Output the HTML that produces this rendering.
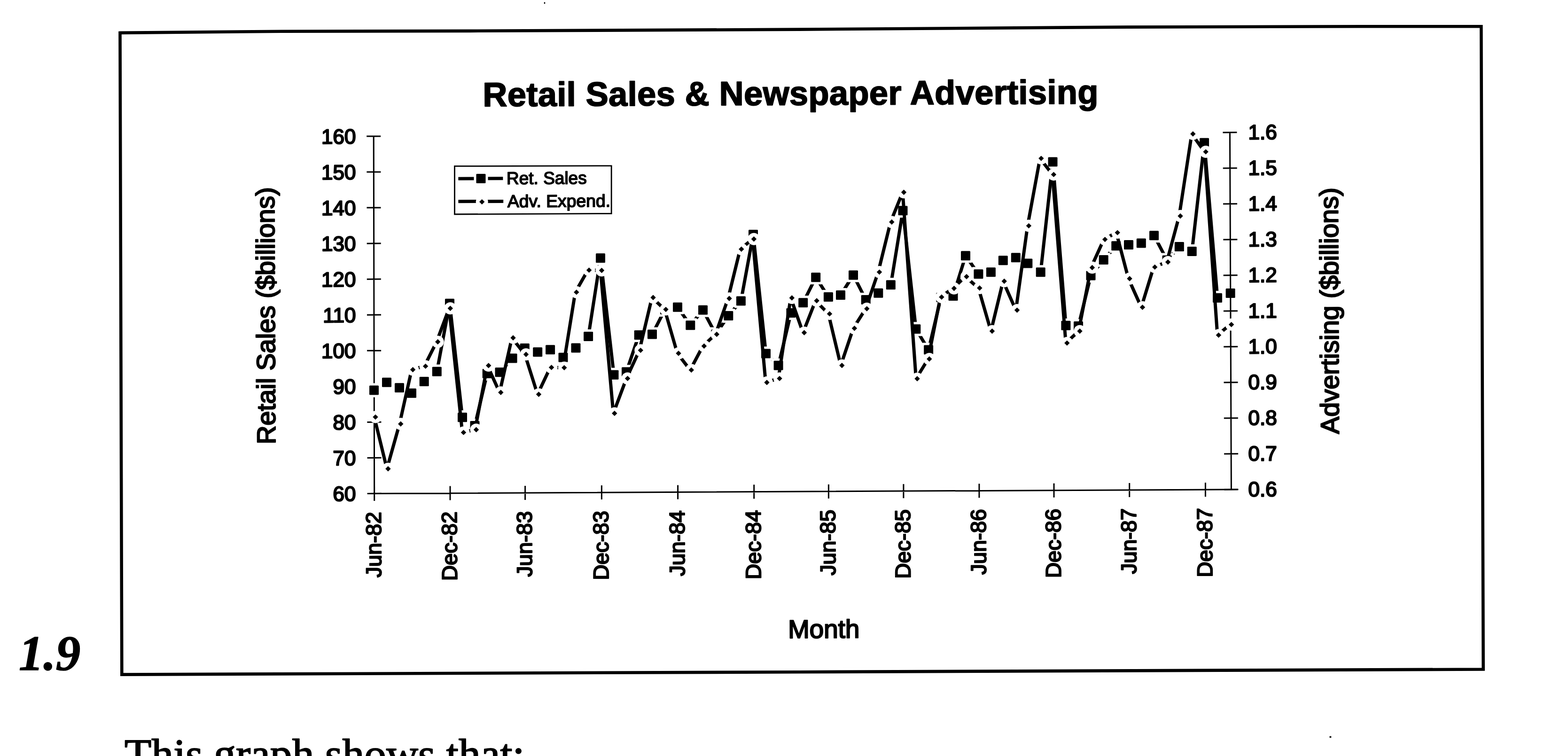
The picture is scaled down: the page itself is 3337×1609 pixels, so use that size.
<!DOCTYPE html>
<html lang="en"><head><meta charset="utf-8"><title>Retail Sales &amp; Newspaper Advertising</title>
<style>
html,body{margin:0;padding:0;background:#fff}
body{width:3337px;height:1609px;overflow:hidden}
svg{display:block}
.sans{font-family:"Liberation Sans",Arial,Helvetica,sans-serif;fill:#000;stroke:#000;stroke-linejoin:round}
.serif{font-family:"Liberation Serif","Times New Roman",serif;fill:#000;stroke:#000;stroke-linejoin:round}
.ax{stroke:#000;stroke-width:3.0;fill:none;stroke-linecap:butt}
.ln{stroke:#000;stroke-width:7.0;fill:none;stroke-linejoin:round;stroke-linecap:round}
.halo{fill:#fff;stroke:none}
.mk{fill:#000;stroke:none}
</style></head><body>
<svg width="3337" height="1609" viewBox="0 0 3337 1609">
<rect x="0" y="0" width="3337" height="1609" fill="#fff"/>
<path d="M255.5 69.9 L600 66.7 L1000 65.9 L1700 62.6 L2400 57.6 L2900 56.2 L3152.3 56.3 L3156.7 1424.5 L1700 1430.2 L259.3 1435.6 Z" fill="none" stroke="#000" stroke-width="6.6" stroke-linejoin="miter"/>
<text class="sans" transform="translate(1027.5 226.3) rotate(-0.25)" font-size="72" text-anchor="start" font-weight="bold" stroke-width="2.0" textLength="1310" lengthAdjust="spacing">Retail Sales &amp; Newspaper Advertising</text>
<text class="sans" transform="translate(586 945.5) rotate(-90.25)" font-size="55.3" text-anchor="start" stroke-width="2.4">Retail Sales ($billions)</text>
<text class="sans" transform="translate(2849.5 923.5) rotate(-90.25)" font-size="55.2" text-anchor="start" stroke-width="2.4">Advertising ($billions)</text>
<text class="sans" transform="translate(1677.3 1358) rotate(-0.25)" font-size="54.7" text-anchor="start" stroke-width="2.4">Month</text>
<path class="ax" d="M795.2 288.5 L796.7 1066 M782 1050.5 L2634 1041.8 M781.7 1050.5 L811.7 1050.3 M781.6 974.4 L811.6 974.3 M781.4 898.4 L811.4 898.3 M781.2 822.3 L811.2 822.2 M781.1 746.3 L811.1 746.2 M781 670.3 L811 670.1 M780.8 594.2 L810.8 594.1 M780.7 518.2 L810.7 518.1 M780.5 442.1 L810.5 442 M780.4 366.1 L810.4 366 M780.2 290.1 L810.2 289.9 M796.7 1035.4 L796.7 1065.4 M958 1034.6 L958 1064.6 M1117.6 1033.9 L1117.6 1063.9 M1280.4 1033.1 L1280.4 1063.1 M1442.6 1032.4 L1442.6 1062.4 M1604.7 1031.6 L1604.7 1061.6 M1763.4 1030.9 L1763.4 1060.9 M1922.9 1030.2 L1922.9 1060.2 M2083.9 1029.4 L2083.9 1059.4 M2243 1028.7 L2243 1058.7 M2403.7 1027.9 L2403.7 1057.9 M2565.4 1027.2 L2565.4 1057.2"/>
<text class="sans" transform="translate(757.5 1066.1) rotate(-0.25)" font-size="44" text-anchor="end" stroke-width="2.4">60</text>
<text class="sans" transform="translate(757.5 990.1) rotate(-0.25)" font-size="44" text-anchor="end" stroke-width="2.4">70</text>
<text class="sans" transform="translate(757.5 914) rotate(-0.25)" font-size="44" text-anchor="end" stroke-width="2.4">80</text>
<text class="sans" transform="translate(757.5 838) rotate(-0.25)" font-size="44" text-anchor="end" stroke-width="2.4">90</text>
<text class="sans" transform="translate(757.5 761.9) rotate(-0.25)" font-size="44" text-anchor="end" stroke-width="2.4">100</text>
<text class="sans" transform="translate(757.5 685.9) rotate(-0.25)" font-size="44" text-anchor="end" stroke-width="2.4">110</text>
<text class="sans" transform="translate(757.5 609.9) rotate(-0.25)" font-size="44" text-anchor="end" stroke-width="2.4">120</text>
<text class="sans" transform="translate(757.5 533.8) rotate(-0.25)" font-size="44" text-anchor="end" stroke-width="2.4">130</text>
<text class="sans" transform="translate(757.5 457.8) rotate(-0.25)" font-size="44" text-anchor="end" stroke-width="2.4">140</text>
<text class="sans" transform="translate(757.5 381.7) rotate(-0.25)" font-size="44" text-anchor="end" stroke-width="2.4">150</text>
<text class="sans" transform="translate(757.5 305.7) rotate(-0.25)" font-size="44" text-anchor="end" stroke-width="2.4">160</text>
<text class="sans" transform="translate(810.7 1089.4) rotate(-90.25)" font-size="45.7" text-anchor="end" stroke-width="2.4">Jun-82</text>
<text class="sans" transform="translate(972 1088.6) rotate(-90.25)" font-size="45.7" text-anchor="end" stroke-width="2.4">Dec-82</text>
<text class="sans" transform="translate(1131.6 1087.9) rotate(-90.25)" font-size="45.7" text-anchor="end" stroke-width="2.4">Jun-83</text>
<text class="sans" transform="translate(1294.4 1087.1) rotate(-90.25)" font-size="45.7" text-anchor="end" stroke-width="2.4">Dec-83</text>
<text class="sans" transform="translate(1456.6 1086.4) rotate(-90.25)" font-size="45.7" text-anchor="end" stroke-width="2.4">Jun-84</text>
<text class="sans" transform="translate(1618.7 1085.6) rotate(-90.25)" font-size="45.7" text-anchor="end" stroke-width="2.4">Dec-84</text>
<text class="sans" transform="translate(1777.4 1084.9) rotate(-90.25)" font-size="45.7" text-anchor="end" stroke-width="2.4">Jun-85</text>
<text class="sans" transform="translate(1936.9 1084.2) rotate(-90.25)" font-size="45.7" text-anchor="end" stroke-width="2.4">Dec-85</text>
<text class="sans" transform="translate(2097.9 1083.4) rotate(-90.25)" font-size="45.7" text-anchor="end" stroke-width="2.4">Jun-86</text>
<text class="sans" transform="translate(2257 1082.7) rotate(-90.25)" font-size="45.7" text-anchor="end" stroke-width="2.4">Dec-86</text>
<text class="sans" transform="translate(2417.7 1081.9) rotate(-90.25)" font-size="45.7" text-anchor="end" stroke-width="2.4">Jun-87</text>
<text class="sans" transform="translate(2579.4 1081.2) rotate(-90.25)" font-size="45.7" text-anchor="end" stroke-width="2.4">Dec-87</text>
<path class="ln" d="M796 830.6 L823 813.7 L850 825.3 L876 836.7 L902.7 812 L929.8 790.8 L957 645.7 L984 888.2 L1010.5 906 L1036.7 794.9 L1063.5 792.2 L1090.6 762.4 L1116.8 741.1 L1144.2 749.3 L1171.1 744.3 L1198.5 760.8 L1225.5 740.4 L1252.1 716.1 L1278 549.3 L1306.5 797.8 L1333 791.5 L1359.7 713 L1388 711.6 L1415 659 L1442 653.7 L1469.3 692.3 L1496 659.8 L1523.3 711.5 L1550.3 671.9 L1576.9 640.5 L1603 499 L1630 752.5 L1656.6 777.8 L1683.4 666 L1709.2 644.2 L1736.2 590.2 L1762.9 631.9 L1789 628 L1816 585.5 L1842.7 638 L1869.3 623.7 L1895.8 606.3 L1921.5 448.3 L1949.3 700.3 L1976.1 744.6 L2002.5 633 L2028.5 629.9 L2055 544.2 L2082.4 583.3 L2108.9 579.2 L2134.8 554.2 L2161.8 548.3 L2187.3 560.6 L2214.7 579.2 L2240.5 344.5 L2268.4 692.7 L2295 694 L2321.5 586.4 L2348.7 552.9 L2375.2 523.3 L2402 521.1 L2428.8 517.6 L2456 501.3 L2483.6 553.6 L2509.8 524.9 L2536.7 535 L2563 303.8 L2591 634 L2618.6 624"/>
<g class="halo"><rect x="781" y="815.6" width="30" height="30" rx="4"/><rect x="808" y="798.7" width="30" height="30" rx="4"/><rect x="835" y="810.3" width="30" height="30" rx="4"/><rect x="861" y="821.7" width="30" height="30" rx="4"/><rect x="887.7" y="797" width="30" height="30" rx="4"/><rect x="914.8" y="775.8" width="30" height="30" rx="4"/><rect x="942" y="630.7" width="30" height="30" rx="4"/><rect x="969" y="873.2" width="30" height="30" rx="4"/><rect x="995.5" y="891" width="30" height="30" rx="4"/><rect x="1021.7" y="779.9" width="30" height="30" rx="4"/><rect x="1048.5" y="777.2" width="30" height="30" rx="4"/><rect x="1075.6" y="747.4" width="30" height="30" rx="4"/><rect x="1101.8" y="726.1" width="30" height="30" rx="4"/><rect x="1129.2" y="734.3" width="30" height="30" rx="4"/><rect x="1156.1" y="729.3" width="30" height="30" rx="4"/><rect x="1183.5" y="745.8" width="30" height="30" rx="4"/><rect x="1210.5" y="725.4" width="30" height="30" rx="4"/><rect x="1237.1" y="701.1" width="30" height="30" rx="4"/><rect x="1263" y="534.3" width="30" height="30" rx="4"/><rect x="1291.5" y="782.8" width="30" height="30" rx="4"/><rect x="1318" y="776.5" width="30" height="30" rx="4"/><rect x="1344.7" y="698" width="30" height="30" rx="4"/><rect x="1373" y="696.6" width="30" height="30" rx="4"/><rect x="1400" y="644" width="30" height="30" rx="4"/><rect x="1427" y="638.7" width="30" height="30" rx="4"/><rect x="1454.3" y="677.3" width="30" height="30" rx="4"/><rect x="1481" y="644.8" width="30" height="30" rx="4"/><rect x="1508.3" y="696.5" width="30" height="30" rx="4"/><rect x="1535.3" y="656.9" width="30" height="30" rx="4"/><rect x="1561.9" y="625.5" width="30" height="30" rx="4"/><rect x="1588" y="484" width="30" height="30" rx="4"/><rect x="1615" y="737.5" width="30" height="30" rx="4"/><rect x="1641.6" y="762.8" width="30" height="30" rx="4"/><rect x="1668.4" y="651" width="30" height="30" rx="4"/><rect x="1694.2" y="629.2" width="30" height="30" rx="4"/><rect x="1721.2" y="575.2" width="30" height="30" rx="4"/><rect x="1747.9" y="616.9" width="30" height="30" rx="4"/><rect x="1774" y="613" width="30" height="30" rx="4"/><rect x="1801" y="570.5" width="30" height="30" rx="4"/><rect x="1827.7" y="623" width="30" height="30" rx="4"/><rect x="1854.3" y="608.7" width="30" height="30" rx="4"/><rect x="1880.8" y="591.3" width="30" height="30" rx="4"/><rect x="1906.5" y="433.3" width="30" height="30" rx="4"/><rect x="1934.3" y="685.3" width="30" height="30" rx="4"/><rect x="1961.1" y="729.6" width="30" height="30" rx="4"/><rect x="1987.5" y="618" width="30" height="30" rx="4"/><rect x="2013.5" y="614.9" width="30" height="30" rx="4"/><rect x="2040" y="529.2" width="30" height="30" rx="4"/><rect x="2067.4" y="568.3" width="30" height="30" rx="4"/><rect x="2093.9" y="564.2" width="30" height="30" rx="4"/><rect x="2119.8" y="539.2" width="30" height="30" rx="4"/><rect x="2146.8" y="533.3" width="30" height="30" rx="4"/><rect x="2172.3" y="545.6" width="30" height="30" rx="4"/><rect x="2199.7" y="564.2" width="30" height="30" rx="4"/><rect x="2225.5" y="329.5" width="30" height="30" rx="4"/><rect x="2253.4" y="677.7" width="30" height="30" rx="4"/><rect x="2280" y="679" width="30" height="30" rx="4"/><rect x="2306.5" y="571.4" width="30" height="30" rx="4"/><rect x="2333.7" y="537.9" width="30" height="30" rx="4"/><rect x="2360.2" y="508.3" width="30" height="30" rx="4"/><rect x="2387" y="506.1" width="30" height="30" rx="4"/><rect x="2413.8" y="502.6" width="30" height="30" rx="4"/><rect x="2441" y="486.3" width="30" height="30" rx="4"/><rect x="2468.6" y="538.6" width="30" height="30" rx="4"/><rect x="2494.8" y="509.9" width="30" height="30" rx="4"/><rect x="2521.7" y="520" width="30" height="30" rx="4"/><rect x="2548" y="288.8" width="30" height="30" rx="4"/><rect x="2576" y="619" width="30" height="30" rx="4"/><rect x="2603.6" y="609" width="30" height="30" rx="4"/></g>
<g class="mk"><rect x="786" y="820.6" width="20" height="20" rx="1.5"/><rect x="813" y="803.7" width="20" height="20" rx="1.5"/><rect x="840" y="815.3" width="20" height="20" rx="1.5"/><rect x="866" y="826.7" width="20" height="20" rx="1.5"/><rect x="892.7" y="802" width="20" height="20" rx="1.5"/><rect x="919.8" y="780.8" width="20" height="20" rx="1.5"/><rect x="947" y="635.7" width="20" height="20" rx="1.5"/><rect x="974" y="878.2" width="20" height="20" rx="1.5"/><rect x="1000.5" y="896" width="20" height="20" rx="1.5"/><rect x="1026.7" y="784.9" width="20" height="20" rx="1.5"/><rect x="1053.5" y="782.2" width="20" height="20" rx="1.5"/><rect x="1080.6" y="752.4" width="20" height="20" rx="1.5"/><rect x="1106.8" y="731.1" width="20" height="20" rx="1.5"/><rect x="1134.2" y="739.3" width="20" height="20" rx="1.5"/><rect x="1161.1" y="734.3" width="20" height="20" rx="1.5"/><rect x="1188.5" y="750.8" width="20" height="20" rx="1.5"/><rect x="1215.5" y="730.4" width="20" height="20" rx="1.5"/><rect x="1242.1" y="706.1" width="20" height="20" rx="1.5"/><rect x="1268" y="539.3" width="20" height="20" rx="1.5"/><rect x="1296.5" y="787.8" width="20" height="20" rx="1.5"/><rect x="1323" y="781.5" width="20" height="20" rx="1.5"/><rect x="1349.7" y="703" width="20" height="20" rx="1.5"/><rect x="1378" y="701.6" width="20" height="20" rx="1.5"/><rect x="1405" y="649" width="20" height="20" rx="1.5"/><rect x="1432" y="643.7" width="20" height="20" rx="1.5"/><rect x="1459.3" y="682.3" width="20" height="20" rx="1.5"/><rect x="1486" y="649.8" width="20" height="20" rx="1.5"/><rect x="1513.3" y="701.5" width="20" height="20" rx="1.5"/><rect x="1540.3" y="661.9" width="20" height="20" rx="1.5"/><rect x="1566.9" y="630.5" width="20" height="20" rx="1.5"/><rect x="1593" y="489" width="20" height="20" rx="1.5"/><rect x="1620" y="742.5" width="20" height="20" rx="1.5"/><rect x="1646.6" y="767.8" width="20" height="20" rx="1.5"/><rect x="1673.4" y="656" width="20" height="20" rx="1.5"/><rect x="1699.2" y="634.2" width="20" height="20" rx="1.5"/><rect x="1726.2" y="580.2" width="20" height="20" rx="1.5"/><rect x="1752.9" y="621.9" width="20" height="20" rx="1.5"/><rect x="1779" y="618" width="20" height="20" rx="1.5"/><rect x="1806" y="575.5" width="20" height="20" rx="1.5"/><rect x="1832.7" y="628" width="20" height="20" rx="1.5"/><rect x="1859.3" y="613.7" width="20" height="20" rx="1.5"/><rect x="1885.8" y="596.3" width="20" height="20" rx="1.5"/><rect x="1911.5" y="438.3" width="20" height="20" rx="1.5"/><rect x="1939.3" y="690.3" width="20" height="20" rx="1.5"/><rect x="1966.1" y="734.6" width="20" height="20" rx="1.5"/><rect x="1992.5" y="623" width="20" height="20" rx="1.5"/><rect x="2018.5" y="619.9" width="20" height="20" rx="1.5"/><rect x="2045" y="534.2" width="20" height="20" rx="1.5"/><rect x="2072.4" y="573.3" width="20" height="20" rx="1.5"/><rect x="2098.9" y="569.2" width="20" height="20" rx="1.5"/><rect x="2124.8" y="544.2" width="20" height="20" rx="1.5"/><rect x="2151.8" y="538.3" width="20" height="20" rx="1.5"/><rect x="2177.3" y="550.6" width="20" height="20" rx="1.5"/><rect x="2204.7" y="569.2" width="20" height="20" rx="1.5"/><rect x="2230.5" y="334.5" width="20" height="20" rx="1.5"/><rect x="2258.4" y="682.7" width="20" height="20" rx="1.5"/><rect x="2285" y="684" width="20" height="20" rx="1.5"/><rect x="2311.5" y="576.4" width="20" height="20" rx="1.5"/><rect x="2338.7" y="542.9" width="20" height="20" rx="1.5"/><rect x="2365.2" y="513.3" width="20" height="20" rx="1.5"/><rect x="2392" y="511.1" width="20" height="20" rx="1.5"/><rect x="2418.8" y="507.6" width="20" height="20" rx="1.5"/><rect x="2446" y="491.3" width="20" height="20" rx="1.5"/><rect x="2473.6" y="543.6" width="20" height="20" rx="1.5"/><rect x="2499.8" y="514.9" width="20" height="20" rx="1.5"/><rect x="2526.7" y="525" width="20" height="20" rx="1.5"/><rect x="2553" y="293.8" width="20" height="20" rx="1.5"/><rect x="2581" y="624" width="20" height="20" rx="1.5"/><rect x="2608.6" y="614" width="20" height="20" rx="1.5"/></g>
<path class="ax" d="M2617.4 280.4 L2620.4 1043.4 M2605.4 1042 L2635.4 1041.8 M2605.1 966 L2635.1 965.8 M2604.8 890 L2634.8 889.8 M2604.5 814 L2634.5 813.8 M2604.2 738 L2634.2 737.8 M2603.9 662 L2633.9 661.8 M2603.6 586 L2633.6 585.8 M2603.3 510 L2633.3 509.8 M2603 434 L2633 433.8 M2602.7 358 L2632.7 357.8 M2602.4 282 L2632.4 281.8"/>
<text class="sans" transform="translate(2656.5 1056.5) rotate(-0.25)" font-size="44" text-anchor="start" stroke-width="2.4">0.6</text>
<text class="sans" transform="translate(2656.5 980.5) rotate(-0.25)" font-size="44" text-anchor="start" stroke-width="2.4">0.7</text>
<text class="sans" transform="translate(2656.5 904.5) rotate(-0.25)" font-size="44" text-anchor="start" stroke-width="2.4">0.8</text>
<text class="sans" transform="translate(2656.5 828.5) rotate(-0.25)" font-size="44" text-anchor="start" stroke-width="2.4">0.9</text>
<text class="sans" transform="translate(2656.5 752.5) rotate(-0.25)" font-size="44" text-anchor="start" stroke-width="2.4">1.0</text>
<text class="sans" transform="translate(2656.5 676.5) rotate(-0.25)" font-size="44" text-anchor="start" stroke-width="2.4">1.1</text>
<text class="sans" transform="translate(2656.5 600.5) rotate(-0.25)" font-size="44" text-anchor="start" stroke-width="2.4">1.2</text>
<text class="sans" transform="translate(2656.5 524.5) rotate(-0.25)" font-size="44" text-anchor="start" stroke-width="2.4">1.3</text>
<text class="sans" transform="translate(2656.5 448.5) rotate(-0.25)" font-size="44" text-anchor="start" stroke-width="2.4">1.4</text>
<text class="sans" transform="translate(2656.5 372.5) rotate(-0.25)" font-size="44" text-anchor="start" stroke-width="2.4">1.5</text>
<text class="sans" transform="translate(2656.5 296.5) rotate(-0.25)" font-size="44" text-anchor="start" stroke-width="2.4">1.6</text>
<path class="ln" d="M796.5 887.6 L823.4 997.7 L850.3 902.2 L876.1 786.7 L903.1 779.4 L929.2 727.5 L955.8 656.2 L984 920.4 L1011 914.5 L1037.2 778 L1063.3 835.2 L1089.5 719 L1117 754.2 L1144 839.2 L1171.1 782 L1198.3 782.6 L1224.3 621.9 L1251.1 574.9 L1278 575.5 L1305.3 879.7 L1333.1 805.5 L1360.8 745.6 L1387.5 633.2 L1414.5 658.6 L1441.5 752 L1468.8 787.5 L1495.9 736.5 L1522.8 711.5 L1549.5 635.2 L1575.3 530.2 L1601.9 508.8 L1629.5 814 L1656.5 805.6 L1682.8 634 L1709 708 L1735.6 640 L1763 667.9 L1789.3 777.8 L1815.9 698.8 L1842.3 657.1 L1869 579.1 L1895.3 472.5 L1921 409.2 L1949.5 806 L1975.3 764 L2001.4 632.3 L2027.9 613.7 L2054.5 588.8 L2082.3 613 L2108.9 704.8 L2134.7 598.5 L2162 660.1 L2186.9 480.6 L2213.3 337.1 L2239.9 371.4 L2268.3 730.1 L2295.5 704.8 L2321.9 569.5 L2349.1 509.6 L2375.7 495.1 L2401.5 593 L2428.9 654 L2455.2 568.4 L2483.1 557.7 L2509.5 459.8 L2536.3 285 L2563.6 323.1 L2590.9 713.2 L2618.1 690.8"/>
<g class="halo"><circle cx="799" cy="887.6" r="13"/><circle cx="825.9" cy="997.7" r="13"/><circle cx="852.8" cy="902.2" r="13"/><circle cx="878.6" cy="786.7" r="13"/><circle cx="905.6" cy="779.4" r="13"/><circle cx="931.7" cy="727.5" r="13"/><circle cx="958.3" cy="656.2" r="13"/><circle cx="986.5" cy="920.4" r="13"/><circle cx="1013.5" cy="914.5" r="13"/><circle cx="1039.7" cy="778" r="13"/><circle cx="1065.8" cy="835.2" r="13"/><circle cx="1092" cy="719" r="13"/><circle cx="1119.5" cy="754.2" r="13"/><circle cx="1146.5" cy="839.2" r="13"/><circle cx="1173.6" cy="782" r="13"/><circle cx="1200.8" cy="782.6" r="13"/><circle cx="1226.8" cy="621.9" r="13"/><circle cx="1253.6" cy="574.9" r="13"/><circle cx="1280.5" cy="575.5" r="13"/><circle cx="1307.8" cy="879.7" r="13"/><circle cx="1335.6" cy="805.5" r="13"/><circle cx="1363.3" cy="745.6" r="13"/><circle cx="1390" cy="633.2" r="13"/><circle cx="1417" cy="658.6" r="13"/><circle cx="1444" cy="752" r="13"/><circle cx="1471.3" cy="787.5" r="13"/><circle cx="1498.4" cy="736.5" r="13"/><circle cx="1525.3" cy="711.5" r="13"/><circle cx="1552" cy="635.2" r="13"/><circle cx="1577.8" cy="530.2" r="13"/><circle cx="1604.4" cy="508.8" r="13"/><circle cx="1632" cy="814" r="13"/><circle cx="1659" cy="805.6" r="13"/><circle cx="1685.3" cy="634" r="13"/><circle cx="1711.5" cy="708" r="13"/><circle cx="1738.1" cy="640" r="13"/><circle cx="1765.5" cy="667.9" r="13"/><circle cx="1791.8" cy="777.8" r="13"/><circle cx="1818.4" cy="698.8" r="13"/><circle cx="1844.8" cy="657.1" r="13"/><circle cx="1871.5" cy="579.1" r="13"/><circle cx="1897.8" cy="472.5" r="13"/><circle cx="1923.5" cy="409.2" r="13"/><circle cx="1952" cy="806" r="13"/><circle cx="1977.8" cy="764" r="13"/><circle cx="2003.9" cy="632.3" r="13"/><circle cx="2030.4" cy="613.7" r="13"/><circle cx="2057" cy="588.8" r="13"/><circle cx="2084.8" cy="613" r="13"/><circle cx="2111.4" cy="704.8" r="13"/><circle cx="2137.2" cy="598.5" r="13"/><circle cx="2164.5" cy="660.1" r="13"/><circle cx="2189.4" cy="480.6" r="13"/><circle cx="2215.8" cy="337.1" r="13"/><circle cx="2242.4" cy="371.4" r="13"/><circle cx="2270.8" cy="730.1" r="13"/><circle cx="2298" cy="704.8" r="13"/><circle cx="2324.4" cy="569.5" r="13"/><circle cx="2351.6" cy="509.6" r="13"/><circle cx="2378.2" cy="495.1" r="13"/><circle cx="2404" cy="593" r="13"/><circle cx="2431.4" cy="654" r="13"/><circle cx="2457.7" cy="568.4" r="13"/><circle cx="2485.6" cy="557.7" r="13"/><circle cx="2512" cy="459.8" r="13"/><circle cx="2538.8" cy="285" r="13"/><circle cx="2566.1" cy="323.1" r="13"/><circle cx="2593.4" cy="713.2" r="13"/><circle cx="2620.6" cy="690.8" r="13"/></g>
<g class="mk"><path d="M799 881.9l5.7 5.7l-5.7 5.7l-5.7 -5.7z"/><path d="M825.9 992l5.7 5.7l-5.7 5.7l-5.7 -5.7z"/><path d="M852.8 896.5l5.7 5.7l-5.7 5.7l-5.7 -5.7z"/><path d="M878.6 781l5.7 5.7l-5.7 5.7l-5.7 -5.7z"/><path d="M905.6 773.7l5.7 5.7l-5.7 5.7l-5.7 -5.7z"/><path d="M931.7 721.8l5.7 5.7l-5.7 5.7l-5.7 -5.7z"/><path d="M958.3 650.5l5.7 5.7l-5.7 5.7l-5.7 -5.7z"/><path d="M986.5 914.7l5.7 5.7l-5.7 5.7l-5.7 -5.7z"/><path d="M1013.5 908.8l5.7 5.7l-5.7 5.7l-5.7 -5.7z"/><path d="M1039.7 772.3l5.7 5.7l-5.7 5.7l-5.7 -5.7z"/><path d="M1065.8 829.5l5.7 5.7l-5.7 5.7l-5.7 -5.7z"/><path d="M1092 713.3l5.7 5.7l-5.7 5.7l-5.7 -5.7z"/><path d="M1119.5 748.5l5.7 5.7l-5.7 5.7l-5.7 -5.7z"/><path d="M1146.5 833.5l5.7 5.7l-5.7 5.7l-5.7 -5.7z"/><path d="M1173.6 776.3l5.7 5.7l-5.7 5.7l-5.7 -5.7z"/><path d="M1200.8 776.9l5.7 5.7l-5.7 5.7l-5.7 -5.7z"/><path d="M1226.8 616.2l5.7 5.7l-5.7 5.7l-5.7 -5.7z"/><path d="M1253.6 569.2l5.7 5.7l-5.7 5.7l-5.7 -5.7z"/><path d="M1280.5 569.8l5.7 5.7l-5.7 5.7l-5.7 -5.7z"/><path d="M1307.8 874l5.7 5.7l-5.7 5.7l-5.7 -5.7z"/><path d="M1335.6 799.8l5.7 5.7l-5.7 5.7l-5.7 -5.7z"/><path d="M1363.3 739.9l5.7 5.7l-5.7 5.7l-5.7 -5.7z"/><path d="M1390 627.5l5.7 5.7l-5.7 5.7l-5.7 -5.7z"/><path d="M1417 652.9l5.7 5.7l-5.7 5.7l-5.7 -5.7z"/><path d="M1444 746.3l5.7 5.7l-5.7 5.7l-5.7 -5.7z"/><path d="M1471.3 781.8l5.7 5.7l-5.7 5.7l-5.7 -5.7z"/><path d="M1498.4 730.8l5.7 5.7l-5.7 5.7l-5.7 -5.7z"/><path d="M1525.3 705.8l5.7 5.7l-5.7 5.7l-5.7 -5.7z"/><path d="M1552 629.5l5.7 5.7l-5.7 5.7l-5.7 -5.7z"/><path d="M1577.8 524.5l5.7 5.7l-5.7 5.7l-5.7 -5.7z"/><path d="M1604.4 503.1l5.7 5.7l-5.7 5.7l-5.7 -5.7z"/><path d="M1632 808.3l5.7 5.7l-5.7 5.7l-5.7 -5.7z"/><path d="M1659 799.9l5.7 5.7l-5.7 5.7l-5.7 -5.7z"/><path d="M1685.3 628.3l5.7 5.7l-5.7 5.7l-5.7 -5.7z"/><path d="M1711.5 702.3l5.7 5.7l-5.7 5.7l-5.7 -5.7z"/><path d="M1738.1 634.3l5.7 5.7l-5.7 5.7l-5.7 -5.7z"/><path d="M1765.5 662.2l5.7 5.7l-5.7 5.7l-5.7 -5.7z"/><path d="M1791.8 772.1l5.7 5.7l-5.7 5.7l-5.7 -5.7z"/><path d="M1818.4 693.1l5.7 5.7l-5.7 5.7l-5.7 -5.7z"/><path d="M1844.8 651.4l5.7 5.7l-5.7 5.7l-5.7 -5.7z"/><path d="M1871.5 573.4l5.7 5.7l-5.7 5.7l-5.7 -5.7z"/><path d="M1897.8 466.8l5.7 5.7l-5.7 5.7l-5.7 -5.7z"/><path d="M1923.5 403.5l5.7 5.7l-5.7 5.7l-5.7 -5.7z"/><path d="M1952 800.3l5.7 5.7l-5.7 5.7l-5.7 -5.7z"/><path d="M1977.8 758.3l5.7 5.7l-5.7 5.7l-5.7 -5.7z"/><path d="M2003.9 626.6l5.7 5.7l-5.7 5.7l-5.7 -5.7z"/><path d="M2030.4 608l5.7 5.7l-5.7 5.7l-5.7 -5.7z"/><path d="M2057 583.1l5.7 5.7l-5.7 5.7l-5.7 -5.7z"/><path d="M2084.8 607.3l5.7 5.7l-5.7 5.7l-5.7 -5.7z"/><path d="M2111.4 699.1l5.7 5.7l-5.7 5.7l-5.7 -5.7z"/><path d="M2137.2 592.8l5.7 5.7l-5.7 5.7l-5.7 -5.7z"/><path d="M2164.5 654.4l5.7 5.7l-5.7 5.7l-5.7 -5.7z"/><path d="M2189.4 474.9l5.7 5.7l-5.7 5.7l-5.7 -5.7z"/><path d="M2215.8 331.4l5.7 5.7l-5.7 5.7l-5.7 -5.7z"/><path d="M2242.4 365.7l5.7 5.7l-5.7 5.7l-5.7 -5.7z"/><path d="M2270.8 724.4l5.7 5.7l-5.7 5.7l-5.7 -5.7z"/><path d="M2298 699.1l5.7 5.7l-5.7 5.7l-5.7 -5.7z"/><path d="M2324.4 563.8l5.7 5.7l-5.7 5.7l-5.7 -5.7z"/><path d="M2351.6 503.9l5.7 5.7l-5.7 5.7l-5.7 -5.7z"/><path d="M2378.2 489.4l5.7 5.7l-5.7 5.7l-5.7 -5.7z"/><path d="M2404 587.3l5.7 5.7l-5.7 5.7l-5.7 -5.7z"/><path d="M2431.4 648.3l5.7 5.7l-5.7 5.7l-5.7 -5.7z"/><path d="M2457.7 562.7l5.7 5.7l-5.7 5.7l-5.7 -5.7z"/><path d="M2485.6 552l5.7 5.7l-5.7 5.7l-5.7 -5.7z"/><path d="M2512 454.1l5.7 5.7l-5.7 5.7l-5.7 -5.7z"/><path d="M2538.8 279.3l5.7 5.7l-5.7 5.7l-5.7 -5.7z"/><path d="M2566.1 317.4l5.7 5.7l-5.7 5.7l-5.7 -5.7z"/><path d="M2593.4 707.5l5.7 5.7l-5.7 5.7l-5.7 -5.7z"/><path d="M2620.6 685.1l5.7 5.7l-5.7 5.7l-5.7 -5.7z"/></g>
<path d="M967.5 353.7 L1301.2 352.9 L1301.2 454.5 L967.5 456 Z" fill="#fff" stroke="#000" stroke-width="2.8"/>
<path class="ln" style="stroke-linecap:butt" d="M975.4 380.2 L1070.4 379.8"/>
<rect class="halo" x="1008.5" y="365" width="30" height="30" rx="4"/>
<rect class="mk" x="1013.5" y="370" width="20" height="20" rx="1.5"/>
<path class="ln" style="stroke-linecap:butt" d="M975.4 428.8 L1071.2 428.4"/>
<circle class="halo" cx="1025.7" cy="429.6" r="13"/>
<path class="mk" d="M1025.7 423.9l5.7 5.7l-5.7 5.7l-5.7 -5.7z"/>
<text class="sans" transform="translate(1078 392) rotate(-0.25)" font-size="37" text-anchor="start" stroke-width="1.8">Ret. Sales</text>
<text class="sans" transform="translate(1080 441) rotate(-0.25)" font-size="37" text-anchor="start" stroke-width="1.8" textLength="219" lengthAdjust="spacingAndGlyphs">Adv. Expend.</text>
<text class="serif" transform="translate(40 1425.5) rotate(0.00)" font-size="105" text-anchor="start" font-weight="bold" font-style="italic" stroke-width="1.5">1.9</text>
<text class="serif" transform="translate(265 1635.5) rotate(0.00)" font-size="92" text-anchor="start" stroke-width="2.0" textLength="851.5" lengthAdjust="spacingAndGlyphs">This graph shows that:</text>
<rect x="1157.8" y="4.6" width="2.4" height="3.4" fill="#000"/><circle cx="2831.4" cy="1568.5" r="2.1" fill="#000"/>
</svg></body></html>
